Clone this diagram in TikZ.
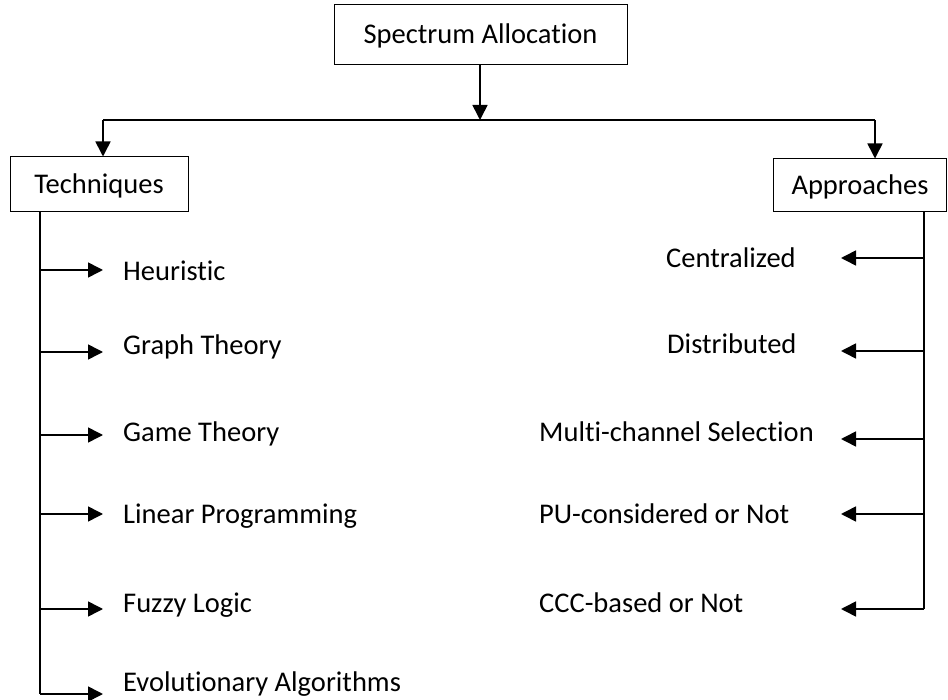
\documentclass[tikz,border=0pt]{standalone}
\usepackage{fontspec}
\setmainfont{Carlito}[Ligatures=NoCommon]
\usetikzlibrary{arrows.meta}
\begin{document}
\begin{tikzpicture}[x=1pt,y=-1pt,
  box/.style={draw,line width=1pt,inner sep=0pt,text height=22pt,text depth=4pt,font=\fontsize{28.5}{32}\selectfont},
  lbl/.style={anchor=base west,inner sep=0pt,font=\fontsize{28.5}{32}\selectfont},
  wire/.style={line width=1.6pt},
  arr/.style={line width=1.6pt,-{Triangle[length=15pt,width=15pt]}}]
\useasboundingbox (0,0) rectangle (948,700);
% boxes
\node[box,minimum width=293pt,minimum height=60pt] (top) at (480.5,35) {Spectrum Allocation};
\node[box,minimum width=178pt,minimum height=55pt] (tech) at (99,184.5) {Techniques};
\node[box,minimum width=173pt,minimum height=53pt] (appr) at (860,185.5) {Approaches};
% bus
\coordinate (busc) at (480,120);
\coordinate (busl) at (103,120);
\coordinate (busr) at (875,120);
\draw[arr] (top.south -| busc) -- (busc);
\draw[wire] (busl) -- (busr);
\draw[arr] (busl) -- (busl |- tech.north);
\draw[arr] (busr) -- (busr |- appr.north);
% left spine
\coordinate (lt) at (40,212);
\coordinate (lb) at (40,694);
\draw[wire] (lt) -- (lb);
\foreach \n/\ya/\yb/\t in {1/270/281/Heuristic,2/352/355/Graph Theory,3/435/442/Game Theory,4/514/523/Linear Programming,5/609/612/Fuzzy Logic,6/694/691/Evolutionary Algorithms}{
  \coordinate (ls\n) at (40,\ya);
  \coordinate (le\n) at (103,\ya);
  \draw[arr] (ls\n) -- (le\n);
  \node[lbl] (lt\n) at (123,\yb) {\t};
}
% right spine
\coordinate (rt) at (924,212);
\coordinate (rb) at (924,609);
\draw[wire] (rt) -- (rb);
\foreach \n/\ya/\x/\yb/\t in {1/258/666/268/Centralized,2/351/667/354/Distributed,3/439/539/442/Multi-channel Selection,4/514/539/523/PU-considered or Not,5/609/539/612/CCC-based or Not}{
  \coordinate (rs\n) at (924,\ya);
  \coordinate (re\n) at (841,\ya);
  \draw[arr] (rs\n) -- (re\n);
  \node[lbl] (rt\n) at (\x,\yb) {\t};
}
\end{tikzpicture}
\end{document}
